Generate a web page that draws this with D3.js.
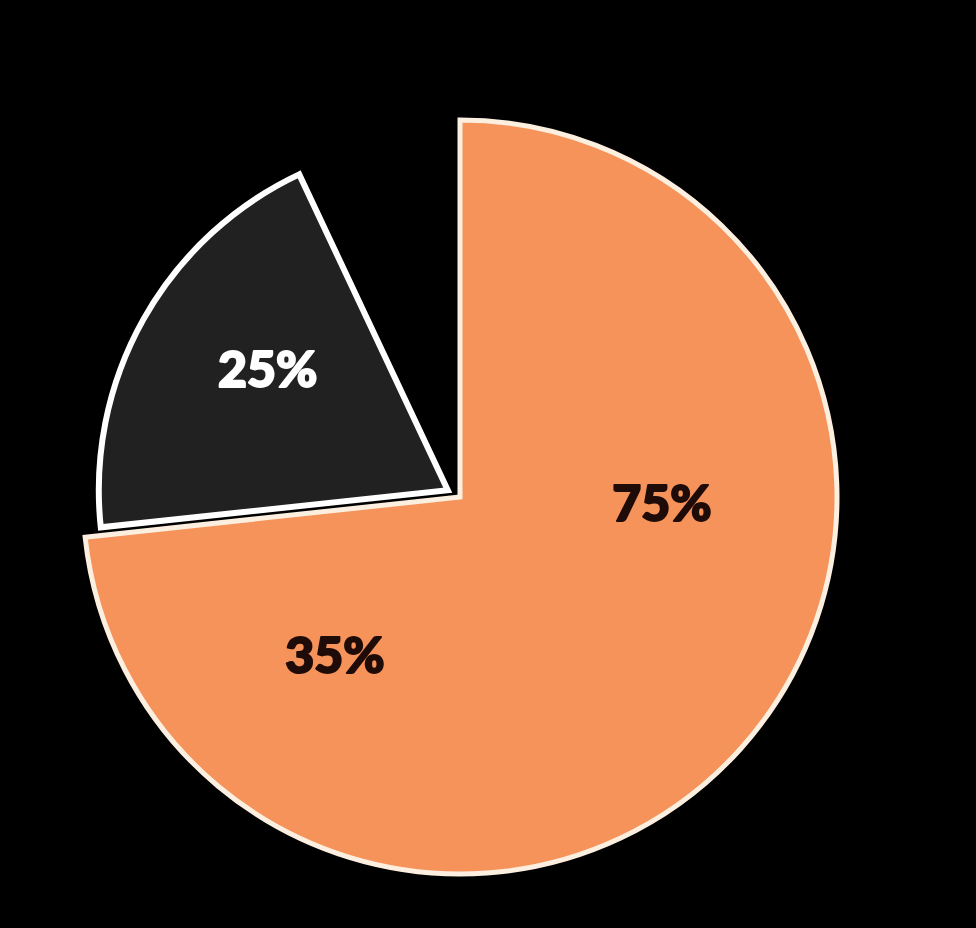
<!DOCTYPE html>
<html>
<head>
<meta charset="utf-8">
<script src="https://cdn.jsdelivr.net/npm/d3@7"></script>
<style>
  html, body { margin: 0; padding: 0; background: #000; }
  svg { display: block; }
</style>
</head>
<body>
<svg id="pie"></svg>
<script>
// slices, in order clockwise from 12 o'clock (share of the full circle)
const labels = ["75%", "35%", "25%", ""];
const shares = [50, 23.3, 19.7, 7.0];
const fills = ["#f5935a", "#f5935a", "#212121", "none"];
const textColors = ["#1f0c08", "#1f0c08", "#ffffff", "none"];

const width = 976;
const height = 928;
const cx = 460;
const cy = 497;
const radius = 377;
const darkRadius = 349;
const explode = 14;
// small hand nudges so labels sit where the original put them
const labelNudge = [[-3, 5], [12, 5], [10, -15]];

const svg = d3.select('#pie')
  .attr('width', width)
  .attr('height', height)

svg.append('rect')
  .attr('width', width)
  .attr('height', height)
  .attr('fill', '#000')

const pie = d3.pie().sort(null).value(d => d)
const arcs = pie(shares)

const g = svg.append('g')
  .attr('transform', `translate(${cx}, ${cy})`)

const orangeArc = d3.arc().innerRadius(0).outerRadius(radius)
const darkArc = d3.arc().innerRadius(0).outerRadius(darkRadius)

// orange part: two slices, drawn as one shape with an outline
const orangeWhole = {startAngle: arcs[0].startAngle, endAngle: arcs[1].endAngle}
g.append('path')
  .attr('d', orangeArc(orangeWhole))
  .attr('fill', fills[0])
  .attr('stroke', '#fcefe0')
  .attr('stroke-width', 5)
  .attr('stroke-linejoin', 'miter')

// dark slice, pulled out a little
const dark = arcs[2]
const mid = (dark.startAngle + dark.endAngle) / 2
const dx = Math.sin(mid) * explode
const dy = -Math.cos(mid) * explode

g.append('path')
  .attr('transform', `translate(${dx}, ${dy})`)
  .attr('d', darkArc(dark))
  .attr('fill', fills[2])
  .attr('stroke', '#ffffff')
  .attr('stroke-width', 6)
  .attr('stroke-linejoin', 'miter')

// labels
const labelArc = d3.arc().innerRadius(205).outerRadius(205)
const darkLabelArc = d3.arc().innerRadius(218).outerRadius(218)

g.append('g')
  .selectAll('text')
  .data(arcs.filter((d, i) => labels[i] !== ""))
  .enter()
  .append('text')
  .attr('transform', (d, i) => {
    const c = i === 2 ? darkLabelArc.centroid(d) : labelArc.centroid(d)
    if (i === 2) { c[0] += dx; c[1] += dy }
    c[0] += labelNudge[i][0]
    c[1] += labelNudge[i][1]
    return `translate(${c[0]}, ${c[1]})`
  })
  .attr('text-anchor', 'middle')
  .attr('dominant-baseline', 'central')
  .style('font-family', 'Lato, "Noto Sans", sans-serif')
  .style('font-weight', 900)
  .style('font-size', '50px')
  .attr('fill', (d, i) => textColors[i])
  .attr('stroke', (d, i) => textColors[i])
  .attr('stroke-width', 2)
  .attr('stroke-linejoin', 'round')
  .text((d, i) => labels[i])
</script>
</body>
</html>
